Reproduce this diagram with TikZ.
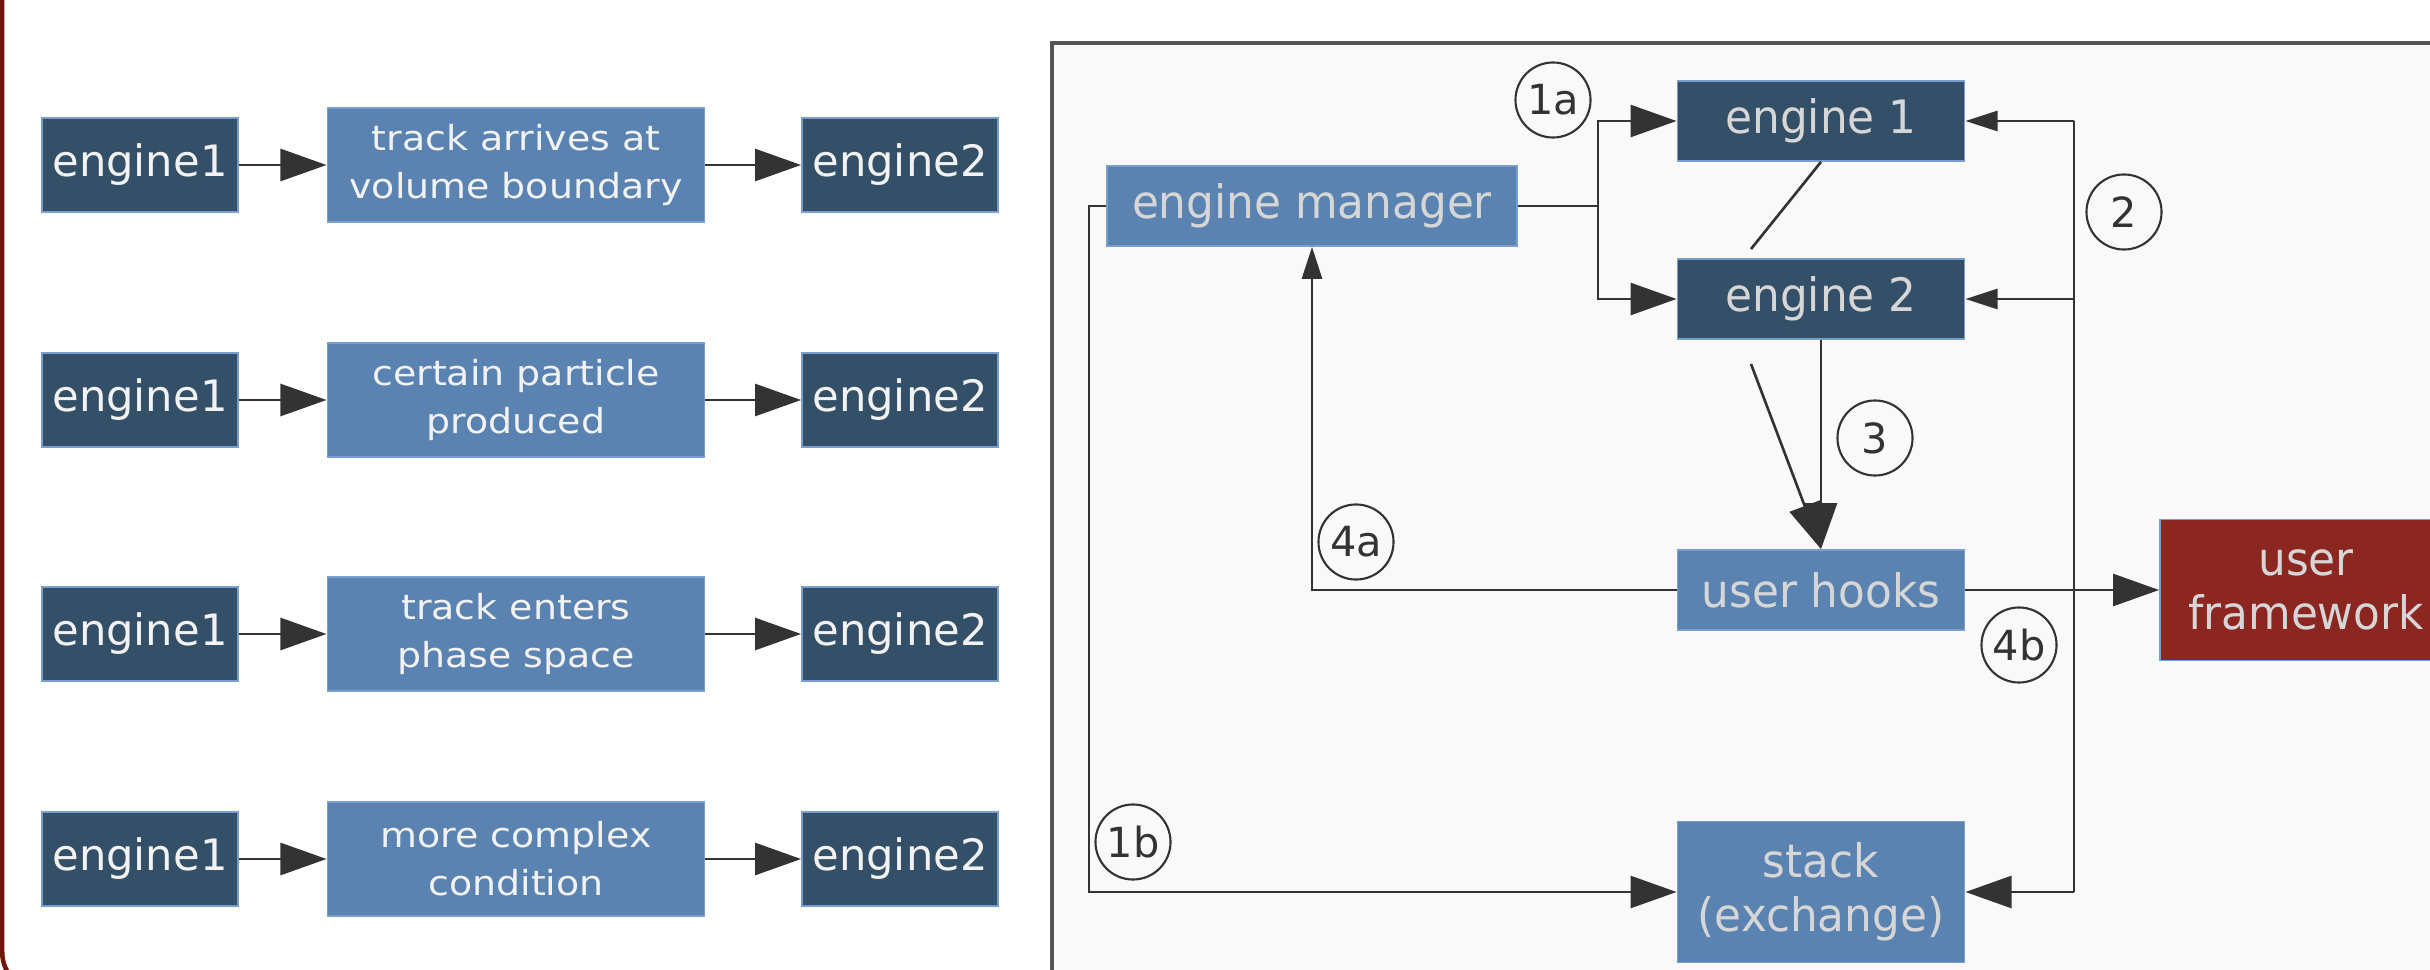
\documentclass[tikz,border=0pt]{standalone}
\usepackage{fontspec}
\setmainfont{DejaVu Sans}
\newfontfamily\condfont[FakeStretch=0.95]{DejaVu Sans}
\newfontfamily\widefont[FakeStretch=1.1]{DejaVu Sans}
\usetikzlibrary{arrows.meta}

\definecolor{enginedark}{RGB}{52,80,105}
\definecolor{boxblue}{RGB}{90,131,177}
\definecolor{boxedge}{RGB}{120,158,205}
\definecolor{fwred}{RGB}{140,38,32}
\definecolor{linegray}{RGB}{51,51,51}
\definecolor{panelfill}{RGB}{249,249,249}
\definecolor{panelline}{RGB}{85,85,85}
\definecolor{framered}{RGB}{112,22,14}
\definecolor{lighttext}{RGB}{214,214,214}

\tikzset{
  base/.style={draw=boxedge, line width=0.5pt, inner sep=0pt, align=center},
  eng/.style={base, fill=enginedark, text=white!95!black,
    font=\fontsize{12.3}{14}\selectfont, minimum width=1.96cm, minimum height=0.94cm},
  cond/.style={base, fill=boxblue, text=white!95!black,
    font=\widefont\fontsize{9.8}{13.7}\selectfont, minimum width=3.77cm, minimum height=1.14cm},
  darkbox/.style={base, fill=enginedark, text=lighttext,
    font=\condfont\fontsize{13.1}{15.4}\selectfont, minimum width=2.87cm, minimum height=0.8cm},
  bluebox/.style={darkbox, fill=boxblue},
  redbox/.style={darkbox, fill=fwred},
  conn/.style={draw=linegray, line width=0.75pt},
  big/.style={conn, -{Triangle[length=0.46cm, width=0.32cm]}},
  small/.style={conn, -{Triangle[length=0.32cm, width=0.2cm]}},
  tag/.style={circle, draw=linegray, line width=0.6pt, minimum size=0.75cm,
    inner sep=0pt, text=linegray, font=\fontsize{11.8}{13}\selectfont},
}

\begin{document}
\begin{tikzpicture}[x=0.01cm, y=-0.01cm]
\useasboundingbox (0,0) rectangle (2430,970);

% outer slide frame
\draw[framered, line width=1.3pt, rounded corners=0.4cm] (2.2,-100) rectangle (3000,992);

% panel holding the engine diagram
\draw[panelline, fill=panelfill, line width=1pt] (1052,43) rectangle (2600,1100);

% left column: transition conditions between engines
\foreach \r/\y/\t in {1/165/{track arrives at\\volume boundary},
                      2/400/{certain particle\\produced},
                      3/634/{track enters\\phase space},
                      4/859/{more complex\\condition}} {
  \node[eng] (a\r) at (140,\y) {engine1};
  \node[cond] (c\r) at (516,\y) {\t};
  \node[eng] (b\r) at (900,\y) {engine2};
  \draw[big] (a\r.east) -- (c\r.west);
  \draw[big] (c\r.east) -- (b\r.west);
}

% right diagram nodes
\node[darkbox] (e1) at (1821,121) {engine 1};
\node[darkbox] (e2) at (1821,299) {engine 2};
\node[bluebox, minimum width=4.1cm] (mgr) at (1312,206) {engine manager};
\node[bluebox] (hooks) at (1821,590) {user hooks};
\node[bluebox, minimum height=1.41cm] (stack) at (1821,892) {stack\\(exchange)};
\node[redbox, minimum width=2.92cm, minimum height=1.41cm] (fw) at (2306,590) {user\\framework};

% 1a: manager starts the engines
\coordinate (split) at (1598,206);
\draw[big] (mgr.east) -- (split) |- (e1.west);
\draw[big] (split) |- (e2.west);

% 1b: manager fills the stack
\draw[big] (mgr.west) -- ++(-17,0) |- (stack.west);

% 2: stack feeds the engines
\coordinate (bt) at (2074,121);
\coordinate (bb) at (2074,892);
\draw[conn] (bt) -- (bb);
\draw[small] (bt) -- (e1.east);
\draw[small] (e2.east -| bt) -- (e2.east);
\draw[big] (bb) -- (stack.east);

% 3: engines call the user hooks
\coordinate (d1) at (1751,249);
\coordinate (d2) at (1751,364);
\draw[conn] (e1.south) -- (d1);
\draw[big] (d2) -- (hooks.north);
\draw[big] (e2.south) -- (hooks.north);

% 4a / 4b: hooks report back
\draw[small] (hooks.west) -| (mgr.south);
\draw[big] (hooks.east) -- (fw.west);

% step tags
\node[tag] (t1a) at (1553,100) {1a};
\node[tag] (t2) at (2124,212) {2};
\node[tag] (t3) at (1875,438) {3};
\node[tag] (t4a) at (1356,542) {4a};
\node[tag] (t4b) at (2019,645) {4b};
\node[tag] (t1b) at (1133,842) {1b};
\end{tikzpicture}
\end{document}
